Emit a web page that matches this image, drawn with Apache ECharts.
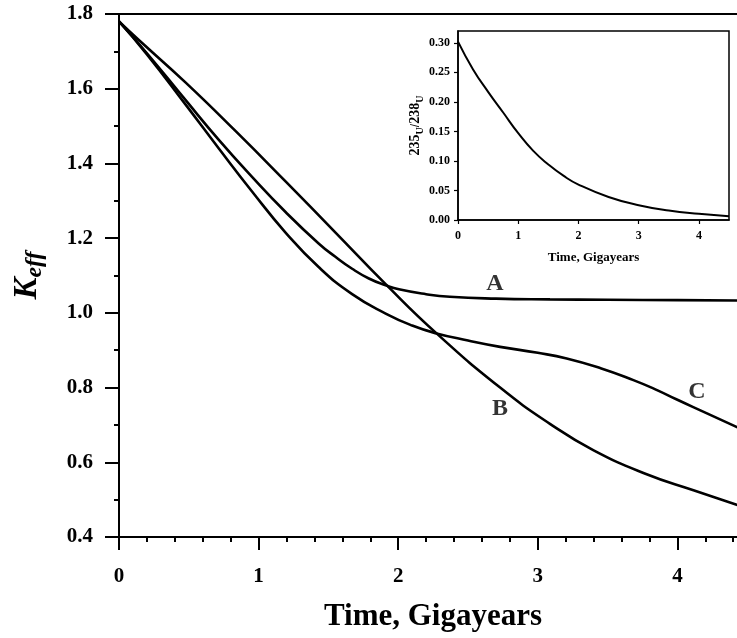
<!DOCTYPE html>
<html><head><meta charset="utf-8">
<script src="https://cdn.jsdelivr.net/npm/echarts@6/dist/echarts.min.js"></script>
<style>html,body{margin:0;padding:0;background:#fff}#c{width:737px;height:638px}</style>
</head><body><div id="c"></div>
<script>
// Main chart: Keff vs time (Gigayears)
const timeA = [0, 0.2, 0.476, 0.715, 0.953, 1.193, 1.432, 1.55, 1.67, 1.79, 1.91, 2.005, 2.2, 2.37, 2.7, 3.087, 3.5, 4.0, 4.45];
const keffA = [1.78, 1.695, 1.570, 1.463, 1.364, 1.27, 1.185, 1.15, 1.118, 1.092, 1.074, 1.063, 1.05, 1.043, 1.038, 1.036, 1.035, 1.034, 1.033];
const timeB = [0, 0.14, 0.476, 0.834, 1.193, 1.551, 1.91, 2.275, 2.73, 3.087, 3.4, 3.78, 4.115, 4.45];
const keffB = [1.78, 1.731, 1.617, 1.487, 1.352, 1.215, 1.077, 0.945, 0.80, 0.703, 0.632, 0.568, 0.525, 0.483];
const timeC = [0, 0.2, 0.476, 0.715, 0.953, 1.193, 1.432, 1.67, 1.91, 2.1, 2.275, 2.5, 2.73, 3.0, 3.207, 3.45, 3.685, 3.85, 3.996, 4.2, 4.45];
const keffC = [1.78, 1.692, 1.558, 1.44, 1.325, 1.215, 1.122, 1.05, 0.998, 0.966, 0.945, 0.926, 0.909, 0.893, 0.878, 0.852, 0.82, 0.794, 0.768, 0.733, 0.69];
const curveNames = ['A', 'B', 'C'];
const labelTime = [2.693, 2.73, 4.14];
const labelKeff = [1.079, 0.744, 0.789];
// Inset: 235U/238U vs time
const ratioTime = [0, 0.25, 0.5, 0.75, 1, 1.25, 1.5, 1.75, 2, 2.5, 3, 3.5, 4, 4.5];
const ratioValue = [0.302, 0.255, 0.217, 0.182, 0.147, 0.117, 0.094, 0.075, 0.06, 0.039, 0.025, 0.016, 0.0105, 0.0065];
// Axis settings
const mainXTicks = {min: 0, max: 5, interval: 1};
const mainYTicks = {min: 0.4, max: 1.8, interval: 0.2};
const insetXTicks = {min: 0, max: 4.5, interval: 1};
const insetYTicks = {min: 0, max: 0.32, interval: 0.05};

const serif = '"Liberation Serif", "Times New Roman", serif';
const pair = (xs, ys) => xs.map((x, i) => [x, ys[i]]);
const lineSeries = (xs, ys, axis, w) => ({
  type: 'line', xAxisIndex: axis, yAxisIndex: axis, data: pair(xs, ys),
  smooth: 0.5, symbol: 'none', lineStyle: {color: '#000', width: w}, silent: true
});

const chart = echarts.init(document.getElementById('c'), null, {renderer: 'canvas'});
chart.setOption({
  animation: false,
  backgroundColor: '#fff',
  grid: [
    {left: 119, top: 14, right: -80, bottom: 101, show: true, borderColor: '#000', borderWidth: 2,
     containLabel: false, outerBoundsMode: 'none'},
    {left: 458, top: 31, right: 8, bottom: 418, show: true, borderColor: '#000', borderWidth: 1.5, backgroundColor: '#fff',
     containLabel: false, outerBoundsMode: 'none'}
  ],
  xAxis: [
    Object.assign({gridIndex: 0, type: 'value',
      axisLine: {lineStyle: {color: '#000', width: 2}},
      axisTick: {length: 13, lineStyle: {color: '#000', width: 2}},
      minorTick: {show: true, splitNumber: 5, length: 5, lineStyle: {color: '#000', width: 2}},
      splitLine: {show: false}, minorSplitLine: {show: false},
      axisLabel: {margin: 29, fontFamily: serif, fontWeight: 'bold', fontSize: 21, color: '#000'},
      name: 'Time, Gigayears', nameLocation: 'middle', nameGap: 64,
      nameTextStyle: {fontFamily: serif, fontWeight: 'bold', fontSize: 31, color: '#000', padding: [0, 70, 0, 0]}
    }, mainXTicks),
    Object.assign({gridIndex: 1, type: 'value',
      axisLine: {lineStyle: {color: '#000', width: 1.5}},
      axisTick: {length: 4, lineStyle: {color: '#000', width: 1.2}},
      splitLine: {show: false},
      axisLabel: {margin: 10, fontFamily: serif, fontWeight: 'bold', fontSize: 12, color: '#000', showMaxLabel: false},
      name: 'Time, Gigayears', nameLocation: 'middle', nameGap: 31,
      nameTextStyle: {fontFamily: serif, fontWeight: 'bold', fontSize: 13, color: '#000'}
    }, insetXTicks)
  ],
  yAxis: [
    Object.assign({gridIndex: 0, type: 'value',
      axisLine: {show: true, lineStyle: {color: '#000', width: 2}},
      axisTick: {show: true, length: 14, lineStyle: {color: '#000', width: 2}},
      minorTick: {show: true, splitNumber: 2, length: 5, lineStyle: {color: '#000', width: 2}},
      splitLine: {show: false}, minorSplitLine: {show: false},
      axisLabel: {margin: 26, fontFamily: serif, fontWeight: 'bold', fontSize: 21, color: '#000', formatter: v => v.toFixed(1)},
      name: '{k|K}{s|eff}', nameLocation: 'middle', nameGap: 72,
      nameTextStyle: {rich: {
        k: {fontFamily: serif, fontWeight: 'bold', fontStyle: 'italic', fontSize: 33, color: '#000'},
        s: {fontFamily: serif, fontWeight: 'bold', fontStyle: 'italic', fontSize: 24, color: '#000', padding: [16, 0, 0, 0]}
      }}
    }, mainYTicks),
    Object.assign({gridIndex: 1, type: 'value',
      axisLine: {show: true, lineStyle: {color: '#000', width: 1.5}},
      axisTick: {show: true, length: 4, lineStyle: {color: '#000', width: 1.2}},
      splitLine: {show: false},
      axisLabel: {margin: 8, fontFamily: serif, fontWeight: 'bold', fontSize: 12, color: '#000', showMaxLabel: false, formatter: v => v.toFixed(2)},
      name: '{n|235}{s|U}/{n|238}{s|U}', nameLocation: 'middle', nameGap: 20,
      nameTextStyle: {rich: {
        n: {fontFamily: serif, fontWeight: 'bold', fontSize: 14, color: '#000'},
        s: {fontFamily: serif, fontWeight: 'bold', fontSize: 10, color: '#000', padding: [9, 0, 0, 0]}
      }}
    }, insetYTicks)
  ],
  series: [
    lineSeries(timeA, keffA, 0, 2.6),
    lineSeries(timeB, keffB, 0, 2.6),
    lineSeries(timeC, keffC, 0, 2.6),
    lineSeries(ratioTime, ratioValue, 1, 2),
    {type: 'scatter', xAxisIndex: 0, yAxisIndex: 0, symbolSize: 1, itemStyle: {color: 'rgba(0,0,0,0)'},
     data: curveNames.map((n, i) => [labelTime[i], labelKeff[i], n]),
     label: {show: true, position: 'inside', formatter: p => p.data[2], fontFamily: serif, fontWeight: 'bold', fontSize: 24, color: '#000'}}
  ]
});
</script></body></html>
